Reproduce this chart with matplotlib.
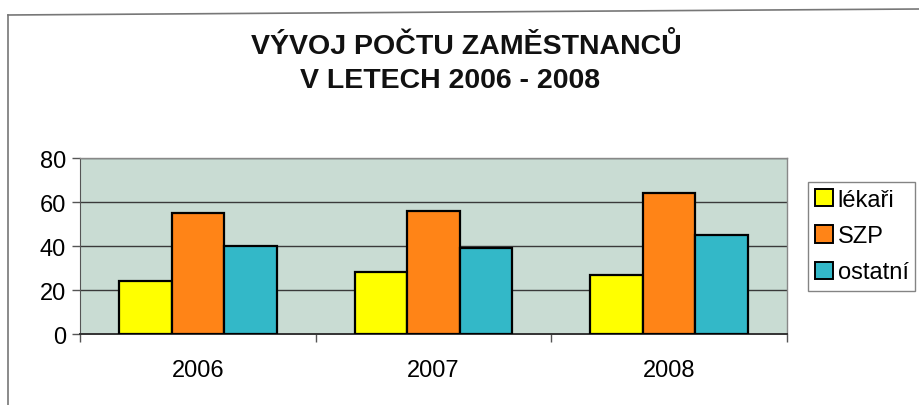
import matplotlib.pyplot as plt
import numpy as np
from matplotlib.lines import Line2D
from matplotlib.patches import Patch

plt.rcParams['font.family'] = ['Liberation Sans', 'DejaVu Sans']

years = ['2006', '2007', '2008']
lekari = [24, 28, 27]
szp = [55, 56, 64]
ostatni = [40, 39, 45]
series_names = ['lékaři', 'SZP', 'ostatní']
colors = ['#ffff00', '#ff8417', '#33b8c8']

fig = plt.figure(figsize=(9.19, 4.06), dpi=100)
ax = fig.add_axes([80 / 919, 1 - 335 / 406, (787 - 80) / 919, (335 - 159) / 406])

x = np.arange(len(years))
w = 0.223
for i, vals in enumerate([lekari, szp, ostatni]):
    ax.bar(x + (i - 1) * w, vals, w, color=colors[i], edgecolor='black',
           linewidth=1.6, zorder=3, label=series_names[i])

ax.set_facecolor('#c9dcd3')
ax.set_xlim(-0.5, 2.5)
ax.set_ylim(0, 80)
ax.set_yticks([0, 20, 40, 60, 80])
ax.yaxis.grid(True, color='#3a3a3a', linewidth=1.0, zorder=0)
ax.set_xticks(x)
ax.set_xticklabels(years)
ax.set_xticks([-0.5, 0.5, 1.5, 2.5], minor=True)
ax.tick_params(axis='x', which='major', length=0, pad=18, labelsize=17)
ax.tick_params(axis='x', which='minor', length=6, direction='out', width=1.0, color='#555555')
ax.tick_params(axis='y', length=6, width=1.0, labelsize=17, color='#555555', pad=4)
for s in ['top', 'right']:
    ax.spines[s].set_color('#888888')
    ax.spines[s].set_linewidth(1.0)
ax.spines['left'].set_color('#555555')
ax.spines['bottom'].set_color('#333333')
ax.spines['bottom'].set_linewidth(1.4)

fig.text(466 / 919, 1 - 47 / 406, 'VÝVOJ POČTU ZAMĚSTNANCŮ', ha='center', va='center',
         fontsize=20.5, fontweight='bold', color='#111111')
fig.text(450 / 919, 1 - 81 / 406, 'V LETECH 2006 - 2008', ha='center', va='center',
         fontsize=20.5, fontweight='bold', color='#111111')

handles = [Patch(facecolor=c, edgecolor='black', linewidth=1.4) for c in colors]
leg = fig.legend(handles, series_names, loc='upper left',
                 bbox_to_anchor=(808 / 919, 1 - 183 / 406), fontsize=17,
                 frameon=True, fancybox=False, handlelength=0.75, handleheight=0.75,
                 handletextpad=0.2, borderpad=0.3, labelspacing=0.6, borderaxespad=0)
leg.get_frame().set_edgecolor('#666666')
leg.get_frame().set_linewidth(1.0)

fig.add_artist(Line2D([8 / 919, 1], [1 - 16 / 406, 1 - 10 / 406], color='#777777', linewidth=1.2))
fig.add_artist(Line2D([8 / 919, 8 / 919], [0, 1 - 16 / 406], color='#777777', linewidth=1.2))

plt.savefig('out.png', dpi=100)
